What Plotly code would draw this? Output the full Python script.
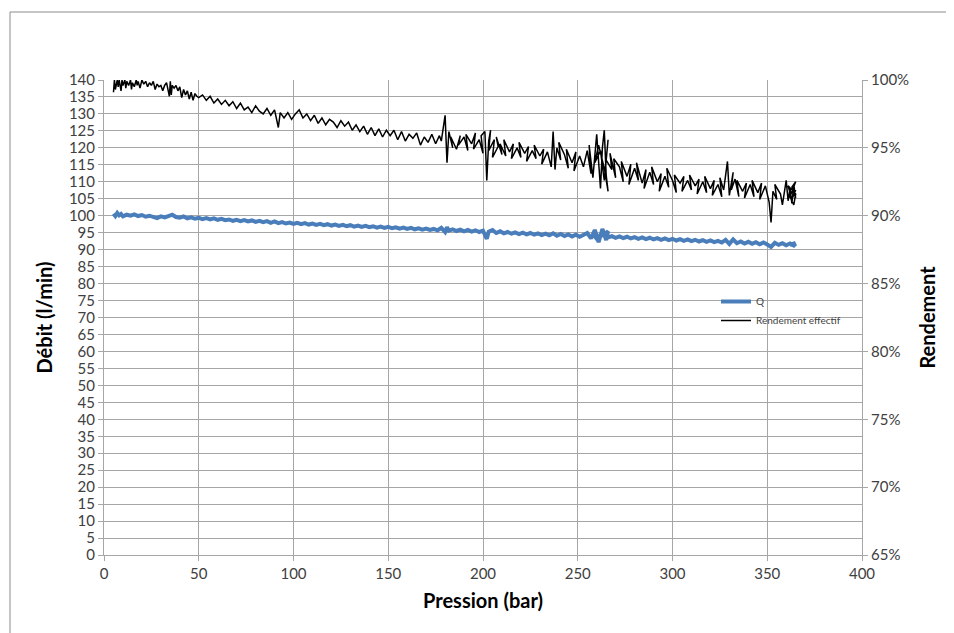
import plotly.graph_objects as go

# ---- Q (Débit, l/min) vs Pression (bar) ----
q_pression = [5,6,7,8,9,10,12,14,16,18,20,22,24,26,28,30,32,34,36,38,40,42,44,46,48,50,
              52,54,56,58,60,62,64,66,68,70,72,74,76,78,80,82,84,86,88,90,92,94,96,98,100,
              102,104,106,108,110,112,114,116,118,120,122,124,126,128,130,132,134,136,138,140,
              142,144,146,148,150,152,154,156,158,160,162,164,166,168,170,172,174,176,178,180,
              181,182,184,186,188,190,192,194,196,198,200,201,202,203,205,207,209,211,213,215,
              217,219,221,223,225,227,229,231,233,235,237,239,241,243,245,247,249,251,253,255,
              257,259,261,263,265,266,262,258,260,264,266,268,270,272,274,276,278,280,282,284,
              286,288,290,292,294,296,298,300,302,304,306,308,310,312,314,316,318,320,322,324,
              326,328,330,332,334,336,338,340,342,344,346,348,350,352,354,356,358,360,362,364,
              365,362,365]
q_debit = [100.6,99.9,100.8,100.1,100.5,99.8,100.3,100.0,100.4,99.9,100.2,99.7,100.0,99.6,99.3,99.8,99.5,99.9,100.3,99.6,99.4,99.8,99.2,99.5,99.1,99.4,
           99.0,99.3,98.9,99.2,98.8,99.1,98.7,98.9,98.5,98.8,98.4,98.7,98.3,98.6,98.2,98.5,98.1,98.4,97.9,98.3,97.8,98.1,97.7,98.0,97.6,
           97.9,97.5,97.8,97.4,97.7,97.3,97.6,97.2,97.5,97.1,97.4,97.0,97.3,96.9,97.2,96.8,97.1,96.7,97.0,96.6,
           96.9,96.5,96.8,96.4,96.7,96.3,96.6,96.2,96.5,96.1,96.4,96.0,96.3,95.9,96.2,95.8,96.1,95.7,96.4,95.2,
           96.6,95.6,96.0,95.5,95.9,95.4,95.8,95.3,95.7,95.2,95.6,94.6,93.2,95.3,95.8,94.9,95.4,94.8,95.2,94.7,
           95.1,94.6,95.0,94.5,94.9,94.4,94.8,94.3,94.7,94.2,94.8,94.1,94.6,94.0,94.5,93.9,94.4,93.8,94.3,94.9,
           93.3,95.8,92.2,96.1,92.8,95.4,93.9,94.6,93.2,94.9,93.6,94.0,93.5,93.9,93.4,93.8,93.3,93.7,93.2,93.6,
           93.1,93.5,93.0,93.4,92.9,93.3,92.8,93.2,92.7,93.1,92.6,93.0,92.5,92.9,92.4,92.8,92.3,92.7,92.2,92.6,
           92.1,92.9,91.7,93.0,91.9,92.4,91.8,92.3,91.7,92.2,91.6,92.1,91.5,90.8,92.0,91.4,91.9,91.3,91.8,91.2,
           91.7,91.4,92.0]

# ---- Rendement effectif (%) vs Pression (bar) ----
r_pression = [5,5.5,6,7,7.5,8,9,9.5,10,11,11.5,12,13,14,14.5,15,16,17,17.5,18,19,20,21,22,23,24,25,26,27,28,29,30,
              31,32,33,34,34.5,35,35.5,36,37,38,39,40,41,42,43,44,45,46,47,48,49,50,52,54,56,58,60,62,64,66,68,70,
              72,74,76,78,80,82,84,86,88,90,92,93,95,97,99,101,103,105,107,109,111,113,115,117,119,121,123,125,127,129,
              131,133,135,137,139,141,143,145,147,149,151,153,155,157,159,161,163,165,167,169,171,173,175,177,
              178,180,181,182,184,183,186,188,187,190,192,191,194,196,195,198,200,199,201,202,203,204,203,206,205,208,207,210,209,212,211,214,
              216,215,218,220,219,222,224,223,226,228,227,230,232,231,234,236,237,238,239,241,240,243,245,244,247,249,248,251,253,
              255,257,256,258,260,261,262,263,264,265,266,264,261,259,262,264,266,265,268,267,270,269,
              272,274,273,276,278,277,280,282,281,284,286,285,288,290,289,292,294,293,296,298,297,300,302,301,304,306,305,308,310,309,
              312,314,313,316,318,317,320,322,321,324,326,325,327,329,330,332,331,
              333,335,334,337,339,338,341,343,342,345,347,346,349,351,352,353,355,354,357,358,359,360,361,362,363,364,365,363,365,362,364,365,361,363,365]
r_rendement = [99.1,100,99.3,100,99.5,100,99.2,100,99.6,100,99.4,99.9,99.6,100,99.3,99.8,99.5,100,99.6,99.9,99.4,100,99.7,99.9,99.5,99.8,99.6,99.9,99.3,99.7,99.5,99.6,
               99.2,99.6,99.8,99.1,98.8,99.9,98.9,99.6,99.4,99.6,99.2,99.5,98.7,99.3,98.9,99.2,98.6,99.1,98.5,99.0,98.8,98.7,98.9,98.5,98.8,98.3,98.6,98.2,98.5,98.1,98.4,97.9,
               98.3,97.8,98.0,97.6,98.1,97.7,97.5,97.9,97.4,97.8,96.5,97.6,97.2,97.6,97.1,97.5,97.8,97.2,97.5,97.0,97.4,96.8,97.2,96.7,97.1,96.9,96.5,97.0,96.6,96.9,
               96.3,96.7,96.2,96.6,96.0,96.5,95.9,96.4,95.8,96.3,95.9,96.3,95.6,96.2,95.5,96.0,95.7,96.1,95.2,95.8,95.4,96.0,95.3,95.9,
               95.5,97.4,93.9,96.2,95.0,95.8,94.9,95.9,95.2,95.8,94.8,96.0,95.3,96.1,94.9,95.6,94.6,95.9,96.2,92.6,95.5,96.3,94.8,95.6,94.3,95.1,95.8,94.5,95.3,94.4,95.6,94.7,
               95.3,94.2,95.0,94.3,95.4,94.6,95.1,94.0,94.8,94.2,95.2,94.4,94.9,93.8,94.7,93.6,96.2,93.4,95.0,94.1,95.4,94.5,93.5,94.9,93.9,94.7,93.3,94.4,93.6,
               94.8,93.1,95.2,92.8,96.0,93.5,92.0,95.0,96.3,93.0,91.8,93.5,95.2,93.9,94.8,92.6,95.6,94.1,93.4,94.6,92.8,94.2,
               93.6,92.5,94.0,92.9,93.8,92.3,93.5,92.6,93.9,92.4,93.4,92.0,93.2,92.3,93.6,92.5,93.1,91.8,92.9,92.1,93.5,92.6,91.7,93.0,92.4,92.9,91.8,92.6,91.9,93.0,
               92.2,92.7,91.6,92.5,91.7,92.9,92.0,92.6,91.5,92.3,91.4,92.8,91.9,94.0,91.5,93.2,91.9,
               92.7,91.4,92.6,91.8,92.4,91.3,92.3,91.4,92.6,91.7,92.4,91.2,92.2,91.0,89.5,91.8,91.2,92.3,91.6,90.8,91.9,92.6,91.1,92.0,90.9,92.3,91.3,92.1,92.5,91.4,90.8,91.6,92.2,91.2,91.9]

FONT = "Lato"
GRID = "#a6a6a6"
TXT = "#404040"
FRAME = "#8c8c8c"

# plot area in page pixels (page has an 8px body margin)
PL, PR, PT, PB = 104, 862, 80, 555
OFF = 8
W, H = 954, 633

fig = go.Figure()
fig.add_trace(go.Scatter(x=q_pression, y=q_debit, mode="lines", name="Q",
                         line=dict(color="#4a7ebb", width=4), yaxis="y"))
fig.add_trace(go.Scatter(x=r_pression, y=r_rendement, mode="lines", name="Rendement effectif",
                         line=dict(color="#000000", width=1.5), yaxis="y2"))

pw, ph = PR - PL, PB - PT
fx0, fy0 = (10 - PL) / pw, (PB - 12) / ph
fx1 = (954 - PL) / pw
fy1 = (PB - 640) / ph
fig.update_layout(
    width=W, height=H,
    margin=dict(l=PL - OFF, r=W - (PR - OFF), t=PT - OFF, b=H - (PB - OFF)),
    paper_bgcolor="white", plot_bgcolor="white",
    font=dict(family=FONT, color=TXT, size=15),
    showlegend=True,
    legend=dict(x=(716 - PL) / pw, y=(PB - 287) / ph, xanchor="left", yanchor="top",
                bgcolor="rgba(0,0,0,0)", font=dict(size=10, color=TXT),
                tracegroupgap=0, itemwidth=30),
    xaxis=dict(range=[0, 400], dtick=50, tick0=0, showgrid=True, gridcolor=GRID, gridwidth=1,
               showline=True, linecolor=GRID, ticks="outside", ticklen=5, tickcolor=GRID,
               zeroline=False, tickfont=dict(size=15, color=TXT),
               title=dict(text="<b>Pression (bar)</b>", font=dict(size=20, color="#000000", family=FONT), standoff=12)),
    yaxis=dict(range=[0, 140], dtick=5, tick0=0, showgrid=True, gridcolor=GRID, gridwidth=1,
               showline=True, linecolor=GRID, ticks="outside", ticklen=5, tickcolor=GRID,
               zeroline=False, tickfont=dict(size=15, color=TXT),
               title=dict(text="<b>Débit (l/min)</b>", font=dict(size=20, color="#000000", family=FONT), standoff=10)),
    yaxis2=dict(range=[65, 100], dtick=5, tick0=65, overlaying="y", side="right", showgrid=False,
                showline=True, linecolor=GRID, ticks="outside", ticklen=5, tickcolor=GRID,
                ticksuffix="%", zeroline=False, tickfont=dict(size=15, color=TXT),
                title=dict(text="<b>Rendement</b>", font=dict(size=20, color="#000000", family=FONT), standoff=12)),
    shapes=[
        dict(type="line", xref="paper", yref="paper", x0=fx0, x1=fx1, y0=fy0, y1=fy0,
             line=dict(color=FRAME, width=1), layer="below"),
        dict(type="line", xref="paper", yref="paper", x0=fx0, x1=fx0, y0=fy0, y1=fy1,
             line=dict(color=FRAME, width=1), layer="below"),
    ],
)

fig.write_html("out.html")
